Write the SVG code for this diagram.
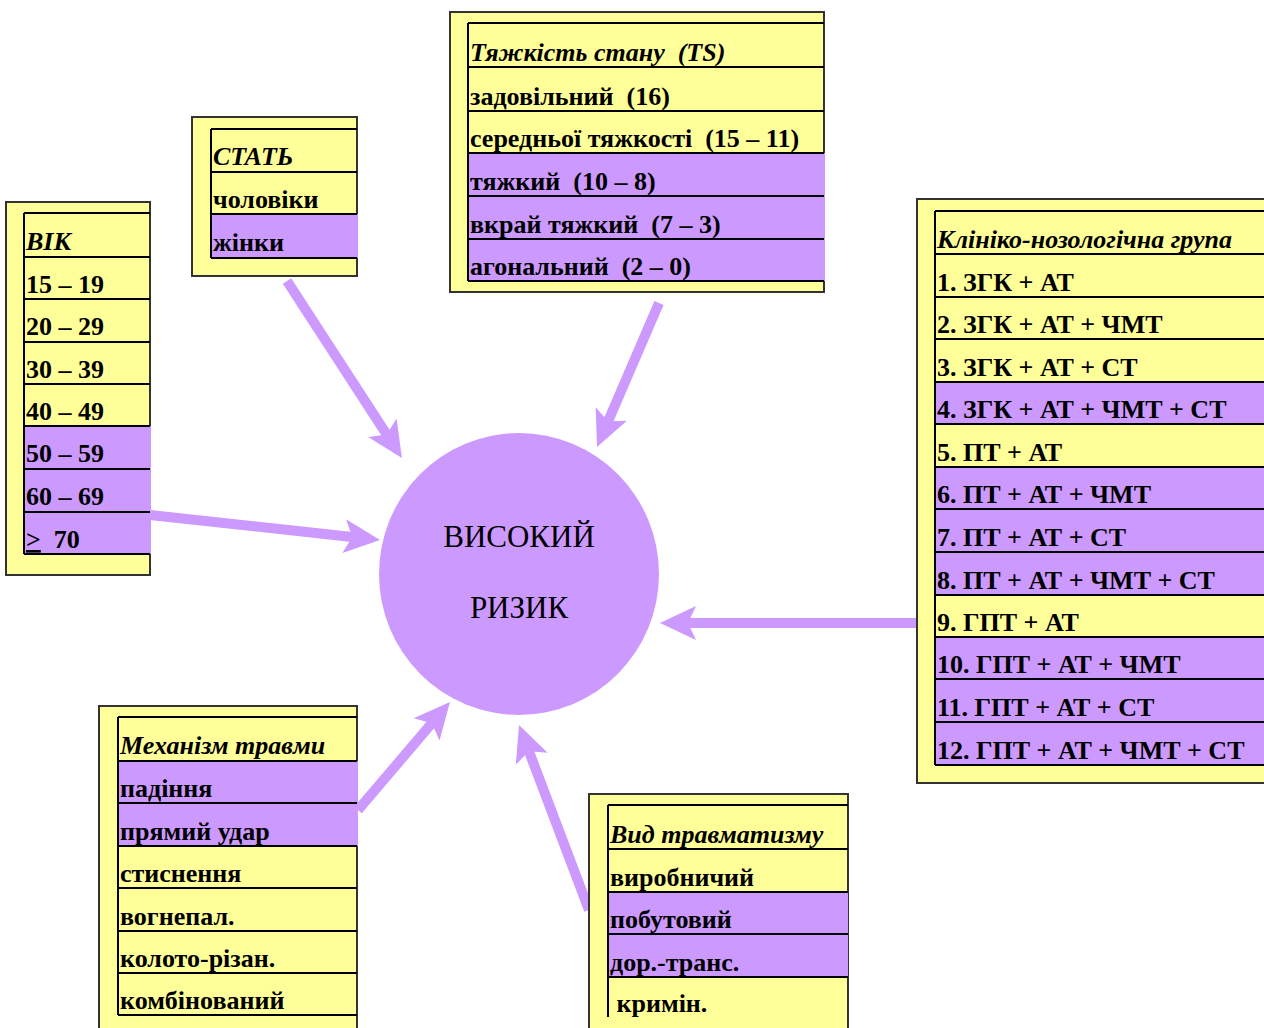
<svg xmlns="http://www.w3.org/2000/svg" width="1264" height="1028" viewBox="0 0 1264 1028">
<style>
.outer{fill:#FFFF99;stroke:#333;stroke-width:2}
.hl{fill:#CC99FF}
.ln{stroke:#000;stroke-width:2;fill:none}
.t{font-family:"Liberation Serif","Times New Roman",serif;font-weight:bold;font-size:26px;fill:#000;white-space:pre}
.h{font-style:italic}
.arr{stroke:#CC99FF;stroke-width:10;fill:none;marker-end:url(#ah)}
.big{font-family:"Liberation Serif","Times New Roman",serif;font-size:31px;fill:#000;text-anchor:middle}
</style>
<defs>
<marker id="ah" markerUnits="userSpaceOnUse" viewBox="0 0 36 36" markerWidth="36" markerHeight="36" refX="8" refY="18" orient="auto">
<path d="M36,18 L0,1 L8,18 L0,35 Z" fill="#CC99FF"/>
</marker>
</defs>
<rect width="1264" height="1028" fill="#fff"/>

<g id="connectors">
<line class="arr" x1="287" y1="281" x2="386.7" y2="434.5"/>
<line class="arr" x1="659" y1="303" x2="608.1" y2="421.3"/>
<line class="arr" x1="150" y1="515" x2="352.2" y2="537"/>
<line class="arr" x1="917" y1="623" x2="688" y2="623"/>
<line class="arr" x1="358" y1="810" x2="431.8" y2="723.3"/>
<line class="arr" x1="589" y1="910" x2="528.9" y2="751.2"/>
</g>

<g id="node-vik">
<rect class="outer" x="6" y="202" width="144" height="373"/>
<rect class="hl" x="24" y="426" width="127" height="128"/>
<path class="ln" d="M24,213V554 M24,213H150 M24,257H150 M24,299H150 M24,342H150 M24,384H150 M24,426H150 M24,469H150 M24,512H150 M24,554H150"/>
<text class="t h" x="26" y="250">ВІК</text>
<text class="t" x="26" y="293">15 – 19</text>
<text class="t" x="26" y="335">20 – 29</text>
<text class="t" x="26" y="378">30 – 39</text>
<text class="t" x="26" y="420">40 – 49</text>
<text class="t" x="26" y="462">50 – 59</text>
<text class="t" x="26" y="505">60 – 69</text>
<text class="t" x="26" y="548"><tspan text-decoration="underline">&gt;</tspan>  70</text>
</g>

<g id="node-stat">
<rect class="outer" x="192" y="117" width="165" height="159"/>
<rect class="hl" x="211" y="214" width="147" height="44"/>
<path class="ln" d="M211,129V258 M211,129H357 M211,172H357 M211,214H357 M211,258H357"/>
<text class="t h" x="213" y="165">СТАТЬ</text>
<text class="t" x="213" y="208">чоловіки</text>
<text class="t" x="213" y="251">жінки</text>
</g>

<g id="node-ts">
<rect class="outer" x="450" y="12" width="374" height="280"/>
<rect class="hl" x="468" y="153" width="357" height="128"/>
<path class="ln" d="M468,23V281 M468,23H824 M468,67H824 M468,111H824 M468,153H824 M468,196H824 M468,239H824 M468,281H824"/>
<text class="t h" x="470" y="61">Тяжкість стану  (TS)</text>
<text class="t" x="470" y="105">задовільний  (16)</text>
<text class="t" x="470" y="147">середньої тяжкості  (15 – 11)</text>
<text class="t" x="470" y="190">тяжкий  (10 – 8)</text>
<text class="t" x="470" y="233">вкрай тяжкий  (7 – 3)</text>
<text class="t" x="470" y="275">агональний  (2 – 0)</text>
</g>

<g id="node-clinical">
<rect class="outer" x="917" y="199" width="360" height="584"/>
<rect class="hl" x="935" y="382" width="330" height="42"/>
<rect class="hl" x="935" y="467" width="330" height="128"/>
<rect class="hl" x="935" y="637" width="330" height="128"/>
<path class="ln" d="M935,211V765 M935,211H1264 M935,254H1264 M935,297H1264 M935,339H1264 M935,382H1264 M935,424H1264 M935,467H1264 M935,509H1264 M935,552H1264 M935,595H1264 M935,637H1264 M935,679H1264 M935,722H1264 M935,765H1264"/>
<text class="t h" x="937" y="248">Клініко-нозологічна група</text>
<text class="t" x="937" y="291">1. ЗГК + АТ</text>
<text class="t" x="937" y="333">2. ЗГК + АТ + ЧМТ</text>
<text class="t" x="937" y="376">3. ЗГК + АТ + СТ</text>
<text class="t" x="937" y="418">4. ЗГК + АТ + ЧМТ + СТ</text>
<text class="t" x="937" y="461">5. ПТ + АТ</text>
<text class="t" x="937" y="503">6. ПТ + АТ + ЧМТ</text>
<text class="t" x="937" y="546">7. ПТ + АТ + СТ</text>
<text class="t" x="937" y="589">8. ПТ + АТ + ЧМТ + СТ</text>
<text class="t" x="937" y="631">9. ГПТ + АТ</text>
<text class="t" x="937" y="673">10. ГПТ + АТ + ЧМТ</text>
<text class="t" x="937" y="716">11. ГПТ + АТ + СТ</text>
<text class="t" x="937" y="759">12. ГПТ + АТ + ЧМТ + СТ</text>
</g>

<g id="node-mechanism">
<rect class="outer" x="99" y="706" width="258" height="330"/>
<rect class="hl" x="118" y="761" width="240" height="85"/>
<path class="ln" d="M118,717V1015 M118,717H357 M118,761H357 M118,803H357 M118,846H357 M118,888H357 M118,931H357 M118,973H357 M118,1015H357"/>
<text class="t h" x="120" y="754">Механізм травми</text>
<text class="t" x="120" y="797">падіння</text>
<text class="t" x="120" y="840">прямий удар</text>
<text class="t" x="120" y="882">стиснення</text>
<text class="t" x="120" y="925">вогнепал.</text>
<text class="t" x="120" y="967">колото-різан.</text>
<text class="t" x="120" y="1009">комбінований</text>
</g>

<g id="node-vid">
<rect class="outer" x="589" y="794" width="259" height="240"/>
<rect class="hl" x="608" y="892" width="240" height="85"/>
<path class="ln" d="M608,805V1017 M608,805H848 M608,849H848 M608,892H848 M608,934H848 M608,977H848"/>
<text class="t h" x="610" y="843">Вид травматизму</text>
<text class="t" x="610" y="886">виробничий</text>
<text class="t" x="610" y="928">побутовий</text>
<text class="t" x="610" y="971">дор.-транс.</text>
<text class="t" x="610" y="1012"> кримін.</text>
</g>

<g id="node-risk">
<ellipse cx="519" cy="574" rx="140" ry="141" fill="#CC99FF"/>
<text class="big" x="519" y="547">ВИСОКИЙ</text>
<text class="big" x="519" y="618">РИЗИК</text>
</g>
</svg>
